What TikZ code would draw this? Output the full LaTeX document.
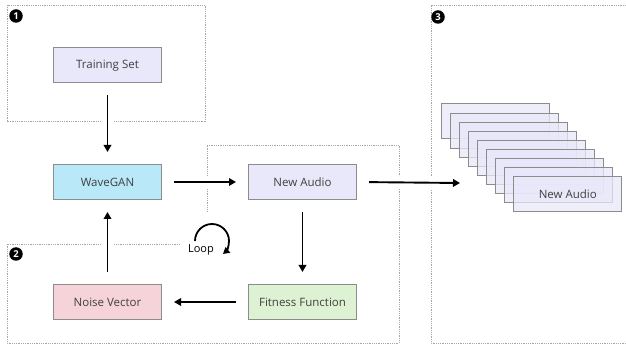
\documentclass[tikz,border=0pt]{standalone}
\usepackage{fontspec}
\setmainfont{Open Sans}
\usetikzlibrary{arrows.meta}
\definecolor{lav}{HTML}{E8E8FA}
\definecolor{cyanbox}{HTML}{B9E8F8}
\definecolor{pinkbox}{HTML}{F5D3D8}
\definecolor{greenbox}{HTML}{DDF2D3}
\definecolor{edgegray}{HTML}{8C8C8C}
\definecolor{txt}{HTML}{404040}
\tikzset{
  blk/.style={draw=edgegray, line width=1pt, minimum width=108pt, minimum height=35pt, inner sep=0pt, font=\fontsize{11.5}{13}\selectfont, text=txt},
  region/.style={draw=gray!70, line width=0.9pt, dash pattern=on 1pt off 0.8pt},
  arr/.style={line width=1.9pt, -{Triangle[length=7pt,width=7.5pt]}, shorten <=12pt, shorten >=12pt,
    preaction={draw=white, line width=12pt, -, shorten <=14pt, shorten >=14pt}},
  num/.style={circle, fill=black, text=white, inner sep=0pt, minimum size=13.5pt, font=\bfseries\fontsize{9.5}{10}\selectfont},
  stk/.style={draw=edgegray, line width=1pt, fill=lav, fill opacity=0.75, text opacity=1, minimum width=108pt, minimum height=35pt, inner sep=0pt, font=\fontsize{11.5}{13}\selectfont, text=txt}
}
\begin{document}
\begin{tikzpicture}[x=1pt,y=-1pt]
\useasboundingbox (0,0) rectangle (626,347);
% regions
\draw[region] (7,5) rectangle (205,121);
\draw[region] (180,244) -- (7,244) -- (7,343) -- (399,343) -- (399,145) -- (207,145) -- (207,212);
\draw[region] (626,5) -- (431,5) -- (431,343) -- (626,343);
\node[num] (n1) at (16,16) {1};
\node[num] (n2) at (16,254) {2};
\node[num] (n3) at (438,17) {3};
% main boxes
\node[blk, fill=lav] (ts) at (107.5,65.5) {Training Set};
\node[blk, fill=cyanbox] (wg) at (107.5,182) {WaveGAN};
\node[blk, fill=lav] (na) at (302.5,182) {New Audio};
\node[blk, fill=pinkbox] (nv) at (107.5,302) {Noise Vector};
\node[blk, fill=greenbox] (ff) at (302.5,302) {Fitness Function};
% stack
\foreach \k in {0,...,7} {
  \node[stk] (s\k) at ({495+9.1*\k},{121.5+9.1*\k}) {};
}
\node[stk] (s8) at ({495+9.1*8},{121.5+9.1*8}) {New Audio};
\coordinate (sin) at (460,183);
% arrows
\draw[arr] (ts) -- (wg);
\draw[arr] (wg) -- (na);
\draw[arr] (na) -- (ff);
\draw[arr] (ff) -- (nv);
\draw[arr] (nv) -- (wg);
\draw[arr, shorten >=0pt, preaction={draw=white, line width=12pt, -, shorten >=2pt}] (na.east) -- (sin);
% loop
\draw[line width=1.8pt, -{Triangle[length=6.5pt,width=7pt]}] (195,241) arc[start angle=180, end angle=410, radius=17];
\node[font=\fontsize{11}{12}\selectfont, text=black] (loop) at (201,250) {Loop};
\end{tikzpicture}
\end{document}
